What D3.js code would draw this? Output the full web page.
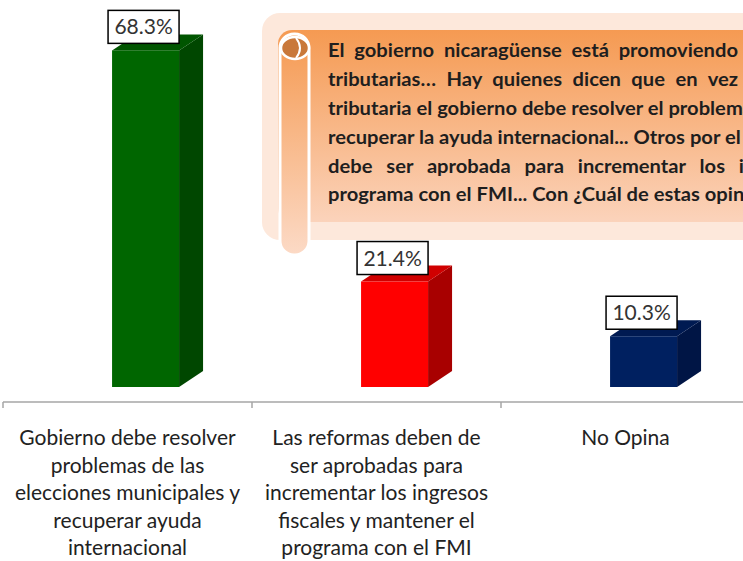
<!DOCTYPE html>
<html><head><meta charset="utf-8">
<script src="https://cdn.jsdelivr.net/npm/d3@7"></script>
<style>html,body{margin:0;padding:0;background:#fff;overflow:hidden}</style>
</head><body>
<svg id="c" width="743" height="561"></svg>
<script>
const categories = [
  "Gobierno debe resolver problemas de las elecciones municipales y recuperar ayuda internacional",
  "Las reformas deben de ser aprobadas para incrementar los ingresos fiscales y mantener el programa con el FMI",
  "No Opina"
];
const categoryLines = [
  ["Gobierno debe resolver","problemas de las","elecciones municipales y","recuperar ayuda","internacional"],
  ["Las reformas deben de","ser aprobadas para","incrementar los ingresos","fiscales y mantener el","programa con el FMI"],
  ["No Opina"]
];
const values = [68.3, 21.4, 10.3];
const valueLabels = ["68.3%", "21.4%", "10.3%"];
const frontColors = ["#006600", "#ff0000", "#002060"];
const sideColors = ["#004700", "#a80000", "#001545"];
const topColors = ["#005500", "#d00000", "#001a52"];
const questionLines = [
  "El gobierno nicaragüense está promoviendo reformas",
  "tributarias… Hay quienes dicen que en vez de aprobar",
  "tributaria el gobierno debe resolver el problema de las",
  "recuperar la ayuda internacional... Otros por el contrario",
  "debe ser aprobada para incrementar los ingresos y",
  "programa con el FMI... Con ¿Cuál de estas opiniones"
];

const svg = d3.select("#c");
const defs = svg.append("defs");
const g1 = defs.append("linearGradient").attr("id","og").attr("x1",0).attr("y1",0).attr("x2",0).attr("y2",1);
g1.append("stop").attr("offset","0%").attr("stop-color","#f59a52");
g1.append("stop").attr("offset","100%").attr("stop-color","#fbd3bb");
const g2 = defs.append("linearGradient").attr("id","rg").attr("x1",0).attr("y1",0).attr("x2",0).attr("y2",1);
g2.append("stop").attr("offset","0%").attr("stop-color","#f59a52");
g2.append("stop").attr("offset","100%").attr("stop-color","#fcdac6");

const x = d3.scaleBand().domain(categories).range([3, 750]).padding(0);
const y = d3.scaleLinear().domain([0, 70]).range([387, 42]);
const bw = x.bandwidth();
const fx = c => x(c) + bw * 0.438;
const fw = 67, dx = 24, dy = 16;

// callout scroll
const call = svg.append("g");
call.append("rect").attr("x",262).attr("y",13).attr("width",520).attr("height",227).attr("rx",18).attr("fill","#fde8db");
call.append("rect").attr("x",278).attr("y",30).attr("width",500).attr("height",192).attr("rx",14).attr("fill","url(#og)");
call.append("rect").attr("x",280).attr("y",34).attr("width",29).attr("height",221).attr("rx",14).attr("fill","url(#rg)").attr("stroke","#fff").attr("stroke-width",3);
call.append("ellipse").attr("cx",295).attr("cy",48).attr("rx",14).attr("ry",11).attr("fill","#c9783a").attr("stroke","#fff").attr("stroke-width",2.5);
call.append("path").attr("d","M296,38 Q304,48 296,58").attr("fill","none").attr("stroke","#fff").attr("stroke-width",2);

// question text (horizontally stretched like the original)
const qx = 328;
const qOuter = call.append("g").attr("transform", `translate(${qx},0)`);
const qt = qOuter.append("g").attr("font-family","Lato, 'Open Sans', sans-serif").attr("font-weight","bold").attr("font-size","18.5px").attr("fill","#1e1e1e");
function measure(s){ const t = qt.append("text").attr("y",-200).text(s); const w = t.node().getComputedTextLength(); t.remove(); return w; }
const sx = 415 / measure("tributaria el gobierno debe resolver el problem");
qt.attr("transform", `scale(${sx},1)`);
const targets = [{w:"promoviendo",end:738},{w:"vez",end:738},null,null,{w:"los",end:725},null];
questionLines.forEach((ln,i)=>{
  const t = qt.append("text").attr("x",0).attr("y",57.5 + i*28.8).text(ln);
  const tg = targets[i];
  if (tg) {
    const idx = ln.indexOf(tg.w) + tg.w.length;
    const sub = ln.slice(0, idx);
    const nat = measure(sub);
    const gaps = sub.split(" ").length - 1;
    t.attr("word-spacing", (((tg.end - qx) / sx - nat) / gaps) + "px");
  }
});

// axis
svg.append("line").attr("x1",3).attr("x2",743).attr("y1",402).attr("y2",402).attr("stroke","#a6a6a6").attr("stroke-width",1.5);
categories.forEach(c=>{
  svg.append("line").attr("x1",x(c)).attr("x2",x(c)).attr("y1",402).attr("y2",408).attr("stroke","#a6a6a6").attr("stroke-width",1.5);
});

// bars
const bars = svg.append("g");
categories.forEach((c,i)=>{
  const x0 = fx(c), x1 = x0 + fw, yt = y(values[i]), yb = y(0);
  bars.append("path").attr("d",`M${x1},${yt} L${x1+dx},${yt-dy} L${x1+dx},${yb-dy} L${x1},${yb} Z`).attr("fill",sideColors[i]);
  bars.append("path").attr("d",`M${x0},${yt} L${x0+dx},${yt-dy} L${x1+dx},${yt-dy} L${x1},${yt} Z`).attr("fill",topColors[i]);
  bars.append("rect").attr("x",x0).attr("y",yt).attr("width",fw).attr("height",yb-yt).attr("fill",frontColors[i]);
  const lg = svg.append("g");
  const bx = x0 - 4, bwid = 71, bh = 33, by = yt - 7 - bh;
  lg.append("rect").attr("x",bx).attr("y",by).attr("width",bwid).attr("height",bh).attr("fill","#fff").attr("stroke","#000").attr("stroke-width",1.5);
  lg.append("text").attr("x",bx + bwid/2).attr("y",by + bh/2 + 7.5).attr("text-anchor","middle")
    .attr("font-family","Lato, 'Open Sans', sans-serif").attr("font-size","21px").attr("fill","#333").text(valueLabels[i]);
});

// category labels
categories.forEach((c,i)=>{
  const t = svg.append("text").attr("text-anchor","middle").attr("font-family","Lato, 'Open Sans', sans-serif").attr("font-size","21px").attr("fill","#222");
  categoryLines[i].forEach((ln,j)=>{
    t.append("tspan").attr("x", x(c) + bw/2).attr("y", 445 + j*27.5).text(ln);
  });
});
</script>
</body></html>
